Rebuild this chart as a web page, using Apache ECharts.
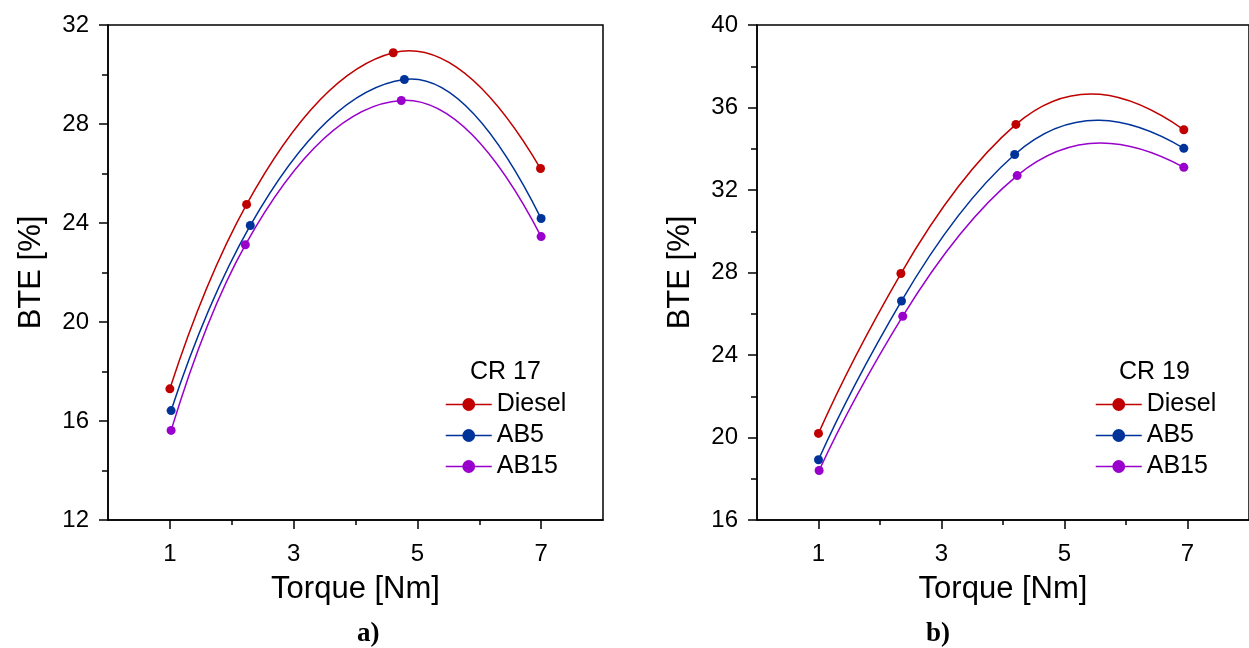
<!DOCTYPE html>
<html lang="en">
<head>
    <meta charset="UTF-8">
    <script src="https://cdn.jsdelivr.net/npm/echarts@6/dist/echarts.min.js"></script>
    <style>
        body{margin:0;background:#fff;}
        #chart{width:1249px;height:648px;}
    </style>
</head>
<body>
<div id="chart"></div>
<script>
    // torque (x) and BTE (y), per blend
    var names = ['Diesel', 'AB5', 'AB15'];
    var colors = ['#c00000', '#003399', '#9900cc'];

    // panel a) CR 17
    var cr17_diesel = [[1.0, 17.3], [2.24, 24.75], [4.61, 30.88], [6.99, 26.2]];
    var cr17_ab5    = [[1.02, 16.42], [2.3, 23.9], [4.79, 29.8], [7.0, 24.18]];
    var cr17_ab15   = [[1.02, 15.62], [2.22, 23.12], [4.74, 28.95], [7.0, 23.45]];

    // panel b) CR 19
    var cr19_diesel = [[1.0, 20.2], [2.34, 27.95], [4.21, 35.18], [6.94, 34.92]];
    var cr19_ab5    = [[1.0, 18.92], [2.35, 26.62], [4.19, 33.72], [6.94, 34.02]];
    var cr19_ab15   = [[1.01, 18.4], [2.37, 25.88], [4.23, 32.7], [6.94, 33.1]];

    var xMajor = [1, 3, 5, 7];
    var xMinor = [2, 4, 6];
    var panelTitles = ['CR 17', 'CR 19'];
    var captions = ['a)', 'b)'];

    var font = 'Liberation Sans, Arial, sans-serif';
    var chart = echarts.init(document.getElementById('chart'));

    // Akima slopes at each point (the connecting curve of the original plot)
    function akimaSlopes(pts){
        var n = pts.length, m = [];
        for (var i = 0; i < n - 1; i++) m.push((pts[i+1][1] - pts[i][1]) / (pts[i+1][0] - pts[i][0]));
        var a = 2 * m[0] - m[1], b = 2 * a - m[0];
        var c = 2 * m[n-2] - m[n-3], d = 2 * c - m[n-2];
        var e = [b, a].concat(m, [c, d]);   // e[k] = m[k-2]
        var t = [];
        for (var i = 0; i < n; i++) {
            var w1 = Math.abs(e[i+3] - e[i+2]), w2 = Math.abs(e[i+1] - e[i]);
            t.push(w1 + w2 === 0 ? (e[i+1] + e[i+2]) / 2 : (w1 * e[i+1] + w2 * e[i+2]) / (w1 + w2));
        }
        return t;
    }

    function curve(data, color, xi, yi){
        var t = akimaSlopes(data);
        return {
            type:'custom', xAxisIndex:xi, yAxisIndex:yi, data:data, silent:true, z:1,
            renderItem:function(params, api){
                if (params.dataIndex !== 0) return;
                var children = [];
                for (var i = 0; i < data.length - 1; i++) {
                    var p0 = data[i], p1 = data[i+1], h = (p1[0] - p0[0]) / 3;
                    var a = api.coord(p0), b = api.coord(p1);
                    var c1 = api.coord([p0[0] + h, p0[1] + t[i] * h]);
                    var c2 = api.coord([p1[0] - h, p1[1] - t[i+1] * h]);
                    children.push({
                        type:'bezierCurve',
                        shape:{x1:a[0], y1:a[1], x2:b[0], y2:b[1], cpx1:c1[0], cpy1:c1[1], cpx2:c2[0], cpy2:c2[1]},
                        style:{stroke:color, lineWidth:1.5, fill:null}
                    });
                }
                return {type:'group', children:children};
            }
        };
    }

    function dots(name, data, color, xi, yi){
        return {
            name:name, type:'line', data:data, xAxisIndex:xi, yAxisIndex:yi,
            symbol:'circle', symbolSize:9, z:3,
            itemStyle:{color:color},
            lineStyle:{color:color, width:1.5, opacity:0}
        };
    }

    function xAxes(grid){
        return [{
            type:'value', gridIndex:grid, min:0, max:8,
            name:'Torque [Nm]', nameLocation:'middle', nameGap:54,
            nameTextStyle:{fontFamily:font, fontSize:31, color:'#000'},
            axisLine:{lineStyle:{color:'#000', width:1.5}},
            axisTick:{customValues:xMajor, length:9, lineStyle:{color:'#000', width:1.5}},
            axisLabel:{customValues:xMajor, fontFamily:font, fontSize:24, color:'#000', margin:22},
            splitLine:{show:false}
        },{
            // second axis only for the small ticks at even torque
            type:'value', gridIndex:grid, min:0, max:8, position:'bottom',
            axisLine:{show:false},
            axisTick:{customValues:xMinor, length:5, lineStyle:{color:'#000', width:1.5}},
            axisLabel:{show:false},
            splitLine:{show:false}
        }];
    }

    function yAxis(grid, min, max){
        return {
            type:'value', gridIndex:grid, min:min, max:max, interval:4,
            name:'BTE [%]', nameLocation:'middle', nameGap:61,
            nameTextStyle:{fontFamily:font, fontSize:31, color:'#000'},
            axisLine:{show:true, lineStyle:{color:'#000', width:1.5}},
            axisTick:{length:9, lineStyle:{color:'#000', width:1.5}},
            minorTick:{show:true, splitNumber:2, length:6, lineStyle:{color:'#000', width:1.5}},
            axisLabel:{fontFamily:font, fontSize:24, color:'#000', margin:19},
            splitLine:{show:false}
        };
    }

    function legend(left){
        return {
            left:left, top:387, orient:'vertical', itemGap:6,
            itemWidth:46, itemHeight:16,
            textStyle:{fontFamily:font, fontSize:25, color:'#000'},
            data:names.map(function (n) { return {name:n, lineStyle:{opacity:1, width:1.5}}; })
        };
    }

    var option = {
        animation:false,
        backgroundColor:'#fff',
        grid:[
            {left:108, top:25, width:495, height:495, show:true, borderColor:'#000', borderWidth:1.5},
            {left:757, top:25, width:496, height:495, show:true, borderColor:'#000', borderWidth:1.5}
        ],
        xAxis: xAxes(0).concat(xAxes(1)),
        yAxis:[yAxis(0, 12, 32), yAxis(1, 16, 40)],
        legend:[legend(440), legend(1090)],
        title:[
            {text:panelTitles[0], left:465, top:355, textStyle:{fontFamily:font, fontSize:25, fontWeight:'normal', color:'#000'}},
            {text:panelTitles[1], left:1114, top:355, textStyle:{fontFamily:font, fontSize:25, fontWeight:'normal', color:'#000'}},
            {text:captions[0], left:352, top:616, textStyle:{fontFamily:'Liberation Serif, serif', fontSize:27, fontWeight:'bold', color:'#000'}},
            {text:captions[1], left:921, top:616, textStyle:{fontFamily:'Liberation Serif, serif', fontSize:27, fontWeight:'bold', color:'#000'}}
        ],
        series:[
            curve(cr17_diesel, colors[0], 0, 0),
            curve(cr17_ab5, colors[1], 0, 0),
            curve(cr17_ab15, colors[2], 0, 0),
            curve(cr19_diesel, colors[0], 2, 1),
            curve(cr19_ab5, colors[1], 2, 1),
            curve(cr19_ab15, colors[2], 2, 1),
            dots(names[0], cr17_diesel, colors[0], 0, 0),
            dots(names[1], cr17_ab5, colors[1], 0, 0),
            dots(names[2], cr17_ab15, colors[2], 0, 0),
            dots(names[0], cr19_diesel, colors[0], 2, 1),
            dots(names[1], cr19_ab5, colors[1], 2, 1),
            dots(names[2], cr19_ab15, colors[2], 2, 1)
        ]
    };
    chart.setOption(option);
</script>
</body>
</html>
